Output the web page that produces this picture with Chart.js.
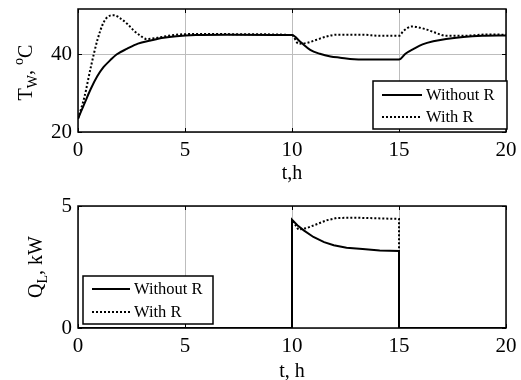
<!DOCTYPE html>
<html>
<head>
<meta charset="utf-8">
<script src="https://cdn.jsdelivr.net/npm/chart.js@4.4.1/dist/chart.umd.min.js"></script>
<style>
  html, body { margin: 0; padding: 0; background: #fff; }
  #wrap { position: relative; width: 521px; height: 380px; }
  .panel { position: absolute; left: 0; width: 521px; height: 190px; }
</style>
</head>
<body>
<div id="wrap">
  <div class="panel" style="top:0"><canvas id="cTop" width="521" height="190"></canvas></div>
  <div class="panel" style="top:190px"><canvas id="cBot" width="521" height="190"></canvas></div>
</div>
<script>
// ---- data ----
const seriesNames = ['Without R', 'With R'];
const timeTicks = [0, 5, 10, 15, 20];
const twTicks = [20, 40];
const qlTicks = [0, 5];

// water temperature T_W (°C) over time t (h)
const tTwWithout = [0, 0.3, 0.6, 0.9, 1.2, 1.5, 1.8, 2.3, 2.8, 3.4, 4.0, 4.6, 5.5, 7, 10,
                    10.4, 10.85, 11.3, 11.8, 12.25, 12.9, 14, 15,
                    15.3, 15.7, 16.1, 16.6, 17.2, 18, 18.9, 20];
const twWithout  = [23.4, 27.3, 31.1, 34.3, 36.7, 38.4, 39.9, 41.4, 42.7, 43.5, 44.2, 44.6, 44.9, 45.0, 44.9,
                    43.1, 41.1, 40.1, 39.4, 39.1, 38.7, 38.6, 38.6,
                    40.1, 41.4, 42.5, 43.3, 43.9, 44.4, 44.7, 44.8];
const tTwWith    = [0, 0.3, 0.6, 0.9, 1.2, 1.5, 1.7, 2.0, 2.3, 2.6, 2.9, 3.2, 3.7, 4.3, 4.9, 6, 8, 10,
                    10.3, 10.7, 11.15, 11.6, 12.1, 13.3, 14.1, 15,
                    15.2, 15.6, 15.9, 16.3, 16.75, 17.2, 18, 19.1, 20];
const twWith     = [23.4, 29.0, 36.7, 43.5, 48.2, 49.9, 50.0, 49.1, 47.8, 46.1, 44.8, 43.9, 44.2, 44.8, 45.1, 45.2, 45.1, 44.9,
                    42.7, 42.9, 43.7, 44.5, 45.0, 45.0, 44.7, 44.7,
                    45.9, 47.1, 46.9, 46.3, 45.4, 44.7, 44.7, 45.05, 45.0];

// load heat Q_L (kW) over time t (h)
const tQlWithout = [0, 10, 10, 10.25, 10.55, 11.0, 11.5, 11.95, 12.55, 13.3, 14.1, 15, 15, 20];
const qlWithout  = [0, 0, 4.44, 4.21, 4.0, 3.73, 3.52, 3.39, 3.29, 3.24, 3.18, 3.16, 0, 0];
const tQlWith    = [0, 10, 10, 10.3, 10.7, 11.15, 11.6, 12.1, 12.9, 13.8, 15, 15, 20];
const qlWith     = [0, 0, 4.44, 4.03, 4.10, 4.25, 4.41, 4.51, 4.52, 4.5, 4.47, 0, 0];

// ---- helpers ----
const SERIF = "'Liberation Serif', 'Times New Roman', serif";
Chart.defaults.color = '#000';
Chart.defaults.font.family = SERIF;

const toPoints = (xs, ys) => xs.map((x, i) => ({ x: x, y: ys[i] }));

function lineSet(label, xs, ys, dotted, smooth) {
  return {
    label: label,
    data: toPoints(xs, ys),
    borderColor: '#000',
    borderWidth: 2,
    borderDash: dotted ? [2, 2] : [],
    pointRadius: 0,
    fill: false,
    tension: 0,
    cubicInterpolationMode: smooth ? 'monotone' : 'default'
  };
}

// frame, inward tick marks, rotated y title with sub/superscripts, inset legend
const framePlugin = {
  id: 'frameDeco',
  beforeDatasetsDraw(chart) {
    const { ctx, chartArea: a, scales } = chart;
    ctx.save();
    ctx.strokeStyle = '#000';
    ctx.lineWidth = 1.5;
    ctx.strokeRect(Math.round(a.left), Math.round(a.top),
                   Math.round(a.right - a.left), Math.round(a.bottom - a.top));
    const len = 4;
    ctx.lineWidth = 1;
    ctx.beginPath();
    scales.x.ticks.forEach(t => {
      const px = Math.round(scales.x.getPixelForValue(t.value)) + 0.5;
      ctx.moveTo(px, a.top); ctx.lineTo(px, a.top + len);
      ctx.moveTo(px, a.bottom); ctx.lineTo(px, a.bottom - len);
    });
    scales.y.ticks.forEach(t => {
      const py = Math.round(scales.y.getPixelForValue(t.value)) + 0.5;
      ctx.moveTo(a.left, py); ctx.lineTo(a.left + len, py);
      ctx.moveTo(a.right, py); ctx.lineTo(a.right - len, py);
    });
    ctx.stroke();
    ctx.restore();
  },
  afterDatasetsDraw(chart, args, opts) {
    const { ctx, chartArea: a } = chart;
    // y-axis title
    const t = opts.yTitle;
    if (t) {
      ctx.save();
      const cy = (a.top + a.bottom) / 2 + (t.dy || 0);
      ctx.translate(t.baseX, cy);
      ctx.rotate(-Math.PI / 2);
      const big = '20px ' + SERIF, small = '14px ' + SERIF;
      let total = 0;
      t.parts.forEach(p => { ctx.font = p.sub || p.sup ? small : big; total += ctx.measureText(p.text).width; });
      let x = -total / 2;
      ctx.fillStyle = '#000';
      ctx.textBaseline = 'alphabetic';
      ctx.textAlign = 'left';
      t.parts.forEach(p => {
        ctx.font = p.sub || p.sup ? small : big;
        const dy = p.sub ? 5 : (p.sup ? -9 : 0);
        ctx.fillText(p.text, x, dy);
        x += ctx.measureText(p.text).width;
      });
      ctx.restore();
    }
    // legend
    const L = opts.legend;
    if (L) {
      ctx.save();
      const left = L.alignRight ? a.right + L.dx - L.w : a.left + L.dx;
      const top = a.bottom - L.dy - L.h;
      ctx.fillStyle = '#fff';
      ctx.fillRect(left, top, L.w, L.h);
      ctx.strokeStyle = '#000';
      ctx.lineWidth = 1.5;
      ctx.strokeRect(Math.round(left), Math.round(top), L.w, L.h);
      chart.data.datasets.forEach((ds, i) => {
        const y = top + L.rows[i];
        ctx.beginPath();
        ctx.setLineDash(ds.borderDash || []);
        ctx.lineWidth = ds.borderWidth;
        ctx.strokeStyle = ds.borderColor;
        ctx.moveTo(left + L.lineX0, y);
        ctx.lineTo(left + L.lineX1, y);
        ctx.stroke();
        ctx.setLineDash([]);
        ctx.fillStyle = '#000';
        ctx.font = '16.5px ' + SERIF;
        ctx.textBaseline = 'middle';
        ctx.textAlign = 'left';
        ctx.fillText(ds.label, left + L.textX, y + 1);
      });
      ctx.restore();
    }
  }
};

function makeOptions(cfg) {
  return {
    responsive: false,
    animation: false,
    devicePixelRatio: 1,
    layout: { padding: { left: 0, right: 15, top: cfg.padTop, bottom: 0 } },
    plugins: {
      legend: { display: false },
      tooltip: { enabled: false },
      frameDeco: { yTitle: cfg.yTitle, legend: cfg.legend }
    },
    scales: {
      x: {
        type: 'linear', min: 0, max: 20,
        afterBuildTicks: s => { s.ticks = timeTicks.map(v => ({ value: v })); },
        afterFit: s => { s.height = cfg.xHeight; s.paddingLeft = 0; s.paddingRight = 0; },
        grid: { color: '#bdbdbd', lineWidth: 1, drawTicks: false },
        border: { display: false },
        ticks: { font: { size: 21, family: SERIF }, padding: cfg.xTickPad, maxRotation: 0, autoSkip: false },
        title: {
          display: true, text: cfg.xTitle,
          font: { size: 20, family: SERIF, lineHeight: cfg.xTitleLH },
          padding: { top: 0, bottom: cfg.xTitlePad }
        }
      },
      y: {
        type: 'linear', min: cfg.yMin, max: cfg.yMax,
        afterBuildTicks: s => { s.ticks = cfg.yTicks.map(v => ({ value: v })); },
        afterFit: s => { s.width = 78; s.paddingTop = 0; s.paddingBottom = 0; },
        grid: { color: '#bdbdbd', lineWidth: 1, drawTicks: false },
        border: { display: false },
        ticks: { font: { size: 21, family: SERIF }, padding: 6 }
      }
    }
  };
}

new Chart(document.getElementById('cTop'), {
  type: 'line',
  data: {
    datasets: [
      lineSet(seriesNames[0], tTwWithout, twWithout, false, true),
      lineSet(seriesNames[1], tTwWith, twWith, true, true)
    ]
  },
  options: makeOptions({
    padTop: 9, xHeight: 58, xTickPad: 6, xTitle: 't,h', xTitlePad: 4, xTitleLH: 1.2,
    yMin: 20, yMax: 51.6, yTicks: twTicks,
    yTitle: { baseX: 32, dy: 2, parts: [{ text: 'T' }, { text: 'W', sub: true }, { text: ', ' }, { text: 'o', sup: true }, { text: 'C' }] },
    legend: { alignRight: true, dx: 1, dy: 3, w: 134, h: 48, rows: [14, 36], lineX0: 9, lineX1: 49, textX: 53 }
  }),
  plugins: [framePlugin]
});

new Chart(document.getElementById('cBot'), {
  type: 'line',
  data: {
    datasets: [
      lineSet(seriesNames[0], tQlWithout, qlWithout, false, false),
      lineSet(seriesNames[1], tQlWith, qlWith, true, false)
    ]
  },
  options: makeOptions({
    padTop: 16, xHeight: 52, xTickPad: 6, xTitle: 't, h', xTitlePad: 0, xTitleLH: 0.8,
    yMin: 0, yMax: 5, yTicks: qlTicks,
    yTitle: { baseX: 42, dy: 0, parts: [{ text: 'Q' }, { text: 'L', sub: true }, { text: ', kW' }] },
    legend: { alignRight: false, dx: 5, dy: 4, w: 130, h: 48, rows: [13, 36], lineX0: 9, lineX1: 47, textX: 51 }
  }),
  plugins: [framePlugin]
});
</script>
</body>
</html>
